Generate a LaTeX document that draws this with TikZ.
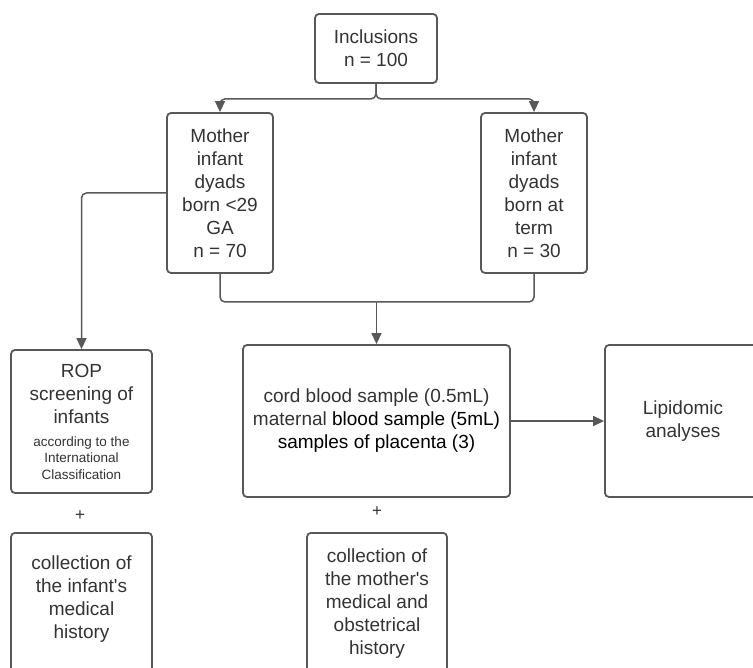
\documentclass[tikz,border=0pt]{standalone}
\usepackage{fontspec}
\setmainfont{Liberation Sans}
\usetikzlibrary{arrows.meta}
\definecolor{linegray}{RGB}{88,88,88}
\definecolor{textgray}{RGB}{51,51,51}
\newcommand{\smalltxt}{\fontsize{13.5}{16.5}\selectfont}
\begin{document}
\begin{tikzpicture}[x=1pt,y=-1pt,
        box/.style={
          draw=linegray,line width=1.8pt,rounded corners=4pt,inner sep=0pt,
          align=center,text=textgray,font=\fontsize{19}{23}\selectfont
        },
        txt/.style={align=center,text=textgray,font=\fontsize{19}{23}\selectfont},
        line/.style={draw=linegray,line width=1.5pt,rounded corners=5pt},
        conn/.style={line,-{Triangle[length=11pt,width=10pt]}}
      ]
      \useasboundingbox (0,0) rectangle (753,668);
      \node [box,minimum width=122pt,minimum height=69pt] (inc) at (376,48.5) {Inclusions\\n = 100};
      \node [box,minimum width=106pt,minimum height=160pt] (lb) at (220,193) {Mother\\infant\\dyads\\born <29\\GA\\n = 70};
      \node [box,minimum width=106pt,minimum height=160pt] (rb) at (534,193) {Mother\\infant\\dyads\\born at\\term\\n = 30};
      \node [box,minimum width=141pt,minimum height=143pt] (rop) at (81.5,421.5) {ROP\\screening of\\infants\\\smalltxt according to the\\[-6.5pt]\smalltxt International\\[-6.5pt]\smalltxt Classification};
      \node [box,minimum width=267pt,minimum height=152pt] (cord) at (376.5,421) {cord blood sample (0.5mL)\\maternal \textcolor{black}{blood sample (5mL)}\\\textcolor{black}{samples of placenta (3)}};
      \node [box,minimum width=156pt,minimum height=152pt] (lip) at (683,421) {Lipidomic\\analyses};
      \node [txt,font=\fontsize{17}{20}\selectfont] (plusa) at (80,516) {+};
      \node [txt,font=\fontsize{17}{20}\selectfont] (plusb) at (377,512) {+};
      \node [box,minimum width=141pt,minimum height=160pt,anchor=north] (inf) at (81.5,532) {};
      \node [txt] (inftext) at (81.5,599) {collection of\\the infant\textquotesingle s\\medical\\history};
      \node [box,minimum width=140pt,minimum height=160pt,anchor=north] (mom) at (377,532) {};
      \node [txt] (momtext) at (377,604) {collection of\\the mother\textquotesingle s\\medical and\\obstetrical\\history};
      \coordinate (merge) at (376.5,302);
      \draw [conn] (inc.south) -- ++(0,15) -| (lb.north);
      \draw [conn] (inc.south) -- ++(0,15) -| (rb.north);
      \draw [line] (lb.south) |- (merge);
      \draw [line] (rb.south) |- (merge);
      \draw [conn] (merge) -- (cord.north);
      \draw [conn] (lb.west) -| (rop.north);
      \draw [conn] (cord.east) -- (lip.west);
    \end{tikzpicture}
\end{document}
